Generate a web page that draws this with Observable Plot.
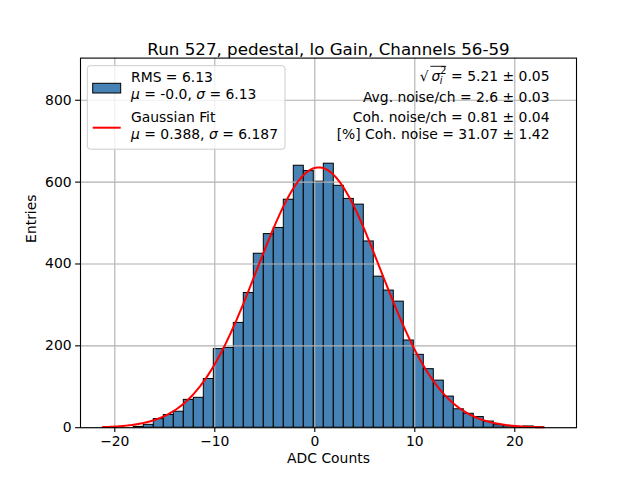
<!DOCTYPE html>
<html>
<head>
<meta charset="utf-8">
<script src="https://cdn.jsdelivr.net/npm/d3@7"></script>
<script src="https://cdn.jsdelivr.net/npm/@observablehq/plot@0.6"></script>
<style>
  html, body { margin: 0; padding: 0; background: white; }
  #chart { width: 640px; height: 480px; }
</style>
</head>
<body>
<div id="chart"></div>
<script>
// ---------- data ----------
const title = "Run 527, pedestal, lo Gain, Channels 56-59";
const xLabel = "ADC Counts";
const yLabel = "Entries";
const xTicks = [-20, -10, 0, 10, 20];
const yTicks = [0, 200, 400, 600, 800];

// histogram bins (left edges, width 1 ADC count) and entries
const binLeft = [-18.1, -17.1, -16.1, -15.1, -14.1, -13.1, -12.1, -11.1, -10.1, -9.1,
                 -8.1, -7.1, -6.1, -5.1, -4.1, -3.1, -2.1, -1.1, -0.1, 0.9,
                 1.9, 2.9, 3.9, 4.9, 5.9, 6.9, 7.9, 8.9, 9.9, 10.9,
                 11.9, 12.9, 13.9, 14.9, 15.9, 16.9, 17.9, 18.9, 19.9, 20.9, 21.9];
const binWidth = 1.0;
const counts  = [2, 7, 21, 31, 39, 68, 73, 119, 192, 195,
                 256, 329, 425, 473, 488, 557, 640, 627, 601, 645,
                 591, 559, 545, 455, 369, 335, 308, 213, 178, 143,
                 115, 76, 45, 34, 26, 15, 6, 4, 2, 3, 1];

// Gaussian fit parameters (from the legend) and the fitted range
const fitMu = 0.388;
const fitSigma = 6.187;
const fitAmplitude = 636;
const fitRange = [-21.2, 22.9];

// legend and annotation texts
const legendRms = "RMS = 6.13";
const legendRmsStats = [["μ", true], [" = -0.0, ", false], ["σ", true], [" = 6.13", false]];
const legendFit = "Gaussian Fit";
const legendFitStats = [["μ", true], [" = 0.388, ", false], ["σ", true], [" = 6.187", false]];
const annotSigmaValue = " = 5.21 ± 0.05";
const annotLines = ["Avg. noise/ch = 2.6 ± 0.03", "Coh. noise/ch = 0.81 ± 0.04", "[%] Coh. noise = 31.07 ± 1.42"];

// ---------- build tables ----------
const bars = binLeft.map((x, i) => ({x1: x, x2: x + binWidth, y: counts[i]}));
const nFit = 300;
const fit = d3.range(nFit + 1).map(k => {
  const x = fitRange[0] + (fitRange[1] - fitRange[0]) * k / nFit;
  return {x, y: fitAmplitude * Math.exp(-0.5 * ((x - fitMu) / fitSigma) ** 2)};
});

const minus = d => (d < 0 ? "\u2212" + Math.abs(d) : String(d));
const FONT = "DejaVu Sans, sans-serif";

const chart = Plot.plot({
  width: 640,
  height: 480,
  marginLeft: 80,
  marginRight: 64,
  marginTop: 57.6,
  marginBottom: 52.8,
  style: {fontFamily: FONT, fontSize: "13.9px", background: "white", color: "black", overflow: "visible"},
  x: {domain: [-23.43, 26.17]},
  y: {domain: [0, 903]},
  marks: [
    Plot.rectY(bars, {x1: "x1", x2: "x2", y: "y", fill: "#4682b4", stroke: "black", strokeWidth: 1}),
    Plot.gridX({ticks: xTicks, stroke: "#b0b0b0", strokeOpacity: 1, strokeWidth: 1.1}),
    Plot.gridY({ticks: yTicks, stroke: "#b0b0b0", strokeOpacity: 1, strokeWidth: 1.1}),
    Plot.line(fit, {x: "x", y: "y", stroke: "red", strokeWidth: 2}),
    Plot.axisX({ticks: xTicks, tickSize: 4.9, tickPadding: 4, tickFormat: minus, label: null, strokeWidth: 1.1}),
    Plot.axisY({ticks: yTicks, tickSize: 4.9, tickPadding: 4, label: null, strokeWidth: 1.1}),
    Plot.frame({stroke: "black", strokeWidth: 1.1}),
    Plot.text([xLabel], {frameAnchor: "bottom", dy: 35, fontSize: 13.9, fill: "black"}),
    Plot.text([yLabel], {frameAnchor: "left", dx: -49, rotate: -90, fontSize: 13.9, fill: "black"}),
    Plot.text([title], {frameAnchor: "top", dy: -14.5, fontSize: 16.7, fill: "black"})
  ]
});
document.getElementById("chart").appendChild(chart);

// ---------- legend (upper left) ----------
const svg = d3.select(chart);
const lg = svg.append("g").attr("font-family", FONT).attr("font-size", 13.9).attr("fill", "black")
  .attr("text-anchor", "start").style("text-anchor", "start");
lg.append("rect").attr("x", 87.3).attr("y", 65.7).attr("width", 197.7).attr("height", 83.5)
  .attr("rx", 3).attr("fill", "white").attr("fill-opacity", 0.8).attr("stroke", "#cccccc").attr("stroke-width", 1);
lg.append("rect").attr("x", 92.7).attr("y", 83.3).attr("width", 28).attr("height", 9.7)
  .attr("fill", "#4682b4").attr("stroke", "black").attr("stroke-width", 1);
lg.append("line").attr("x1", 92.7).attr("x2", 120.7).attr("y1", 127.7).attr("y2", 127.7)
  .attr("stroke", "red").attr("stroke-width", 2);
function mixed(g, x, y, parts) {
  const t = g.append("text").attr("x", x).attr("y", y).attr("text-anchor", "start");
  parts.forEach(([s, it]) => t.append("tspan").attr("font-style", it ? "italic" : null).text(s));
  return t;
}
lg.append("text").attr("x", 131).attr("y", 81.5).attr("text-anchor", "start").text(legendRms);
mixed(lg, 131, 98.5, legendRmsStats);
lg.append("text").attr("x", 131).attr("y", 121.7).attr("text-anchor", "start").text(legendFit);
mixed(lg, 131, 138.5, legendFitStats);

// ---------- annotation (upper right) ----------
const ag = svg.append("g").attr("font-family", FONT).attr("font-size", 13.9).attr("fill", "black")
  .attr("text-anchor", "start");
const xr = 549.5;
const t1 = ag.append("text").attr("x", xr).attr("y", 81).attr("text-anchor", "end").text(annotSigmaValue);
const xs = t1.node().getBBox().x;
const scriptW = 6.5, sigmaW = 8.8, sqrtW = 11.6;
const xScripts = xs - scriptW;
const xSigma = xScripts - sigmaW;
const xSqrt = xSigma - sqrtW;
ag.append("text").attr("x", xSqrt).attr("y", 81).attr("text-anchor", "start").text("√");
ag.append("text").attr("x", xSigma).attr("y", 81).attr("text-anchor", "start").attr("font-style", "italic").text("σ");
ag.append("text").attr("x", xScripts).attr("y", 74).attr("text-anchor", "start").attr("font-size", 9.7).text("2");
ag.append("text").attr("x", xScripts - 0.5).attr("y", 84).attr("text-anchor", "start").attr("font-size", 9.7).attr("font-style", "italic").text("i");
ag.append("line").attr("x1", xSqrt + 10.6).attr("x2", xs - 0.5).attr("y1", 66.3).attr("y2", 66.3)
  .attr("stroke", "black").attr("stroke-width", 0.9);
annotLines.forEach((s, i) => {
  ag.append("text").attr("x", xr).attr("y", [101.5, 121.5, 138.5][i]).attr("text-anchor", "end").text(s);
});
</script>
</body>
</html>
